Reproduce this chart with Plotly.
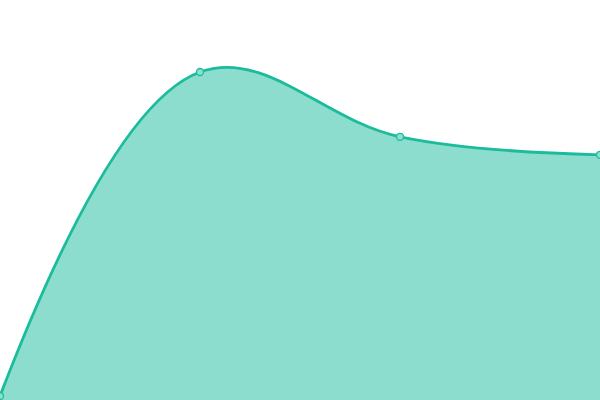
import plotly.graph_objects as go

# data
x_vals = [0, 1, 2, 3]
y_vals = [1, 82, 65.8, 61.3]

line_color = "#1abc9c"
fill_color = "rgba(26,188,156,0.5)"

fig = go.Figure()
fig.add_trace(go.Scatter(
    x=x_vals, y=y_vals,
    mode="lines+markers",
    line=dict(color=line_color, width=2.8, shape="spline", smoothing=1.1),
    marker=dict(size=7, color="#8be0cf", line=dict(color=line_color, width=1.3)),
    fill="tozeroy",
    fillcolor=fill_color,
    hoverinfo="x+y",
))

fig.update_layout(
    width=600, height=400,
    margin=dict(l=0, r=0, t=0, b=0),
    paper_bgcolor="white", plot_bgcolor="white",
    showlegend=False,
    xaxis=dict(range=[0, 3], visible=False),
    yaxis=dict(range=[0, 100], visible=False),
)

# page body has a default 8px margin, drop it so the plot fills the window
fig.write_html("out.html", config={"displayModeBar": False},
               post_script="document.body.style.margin='0';")
